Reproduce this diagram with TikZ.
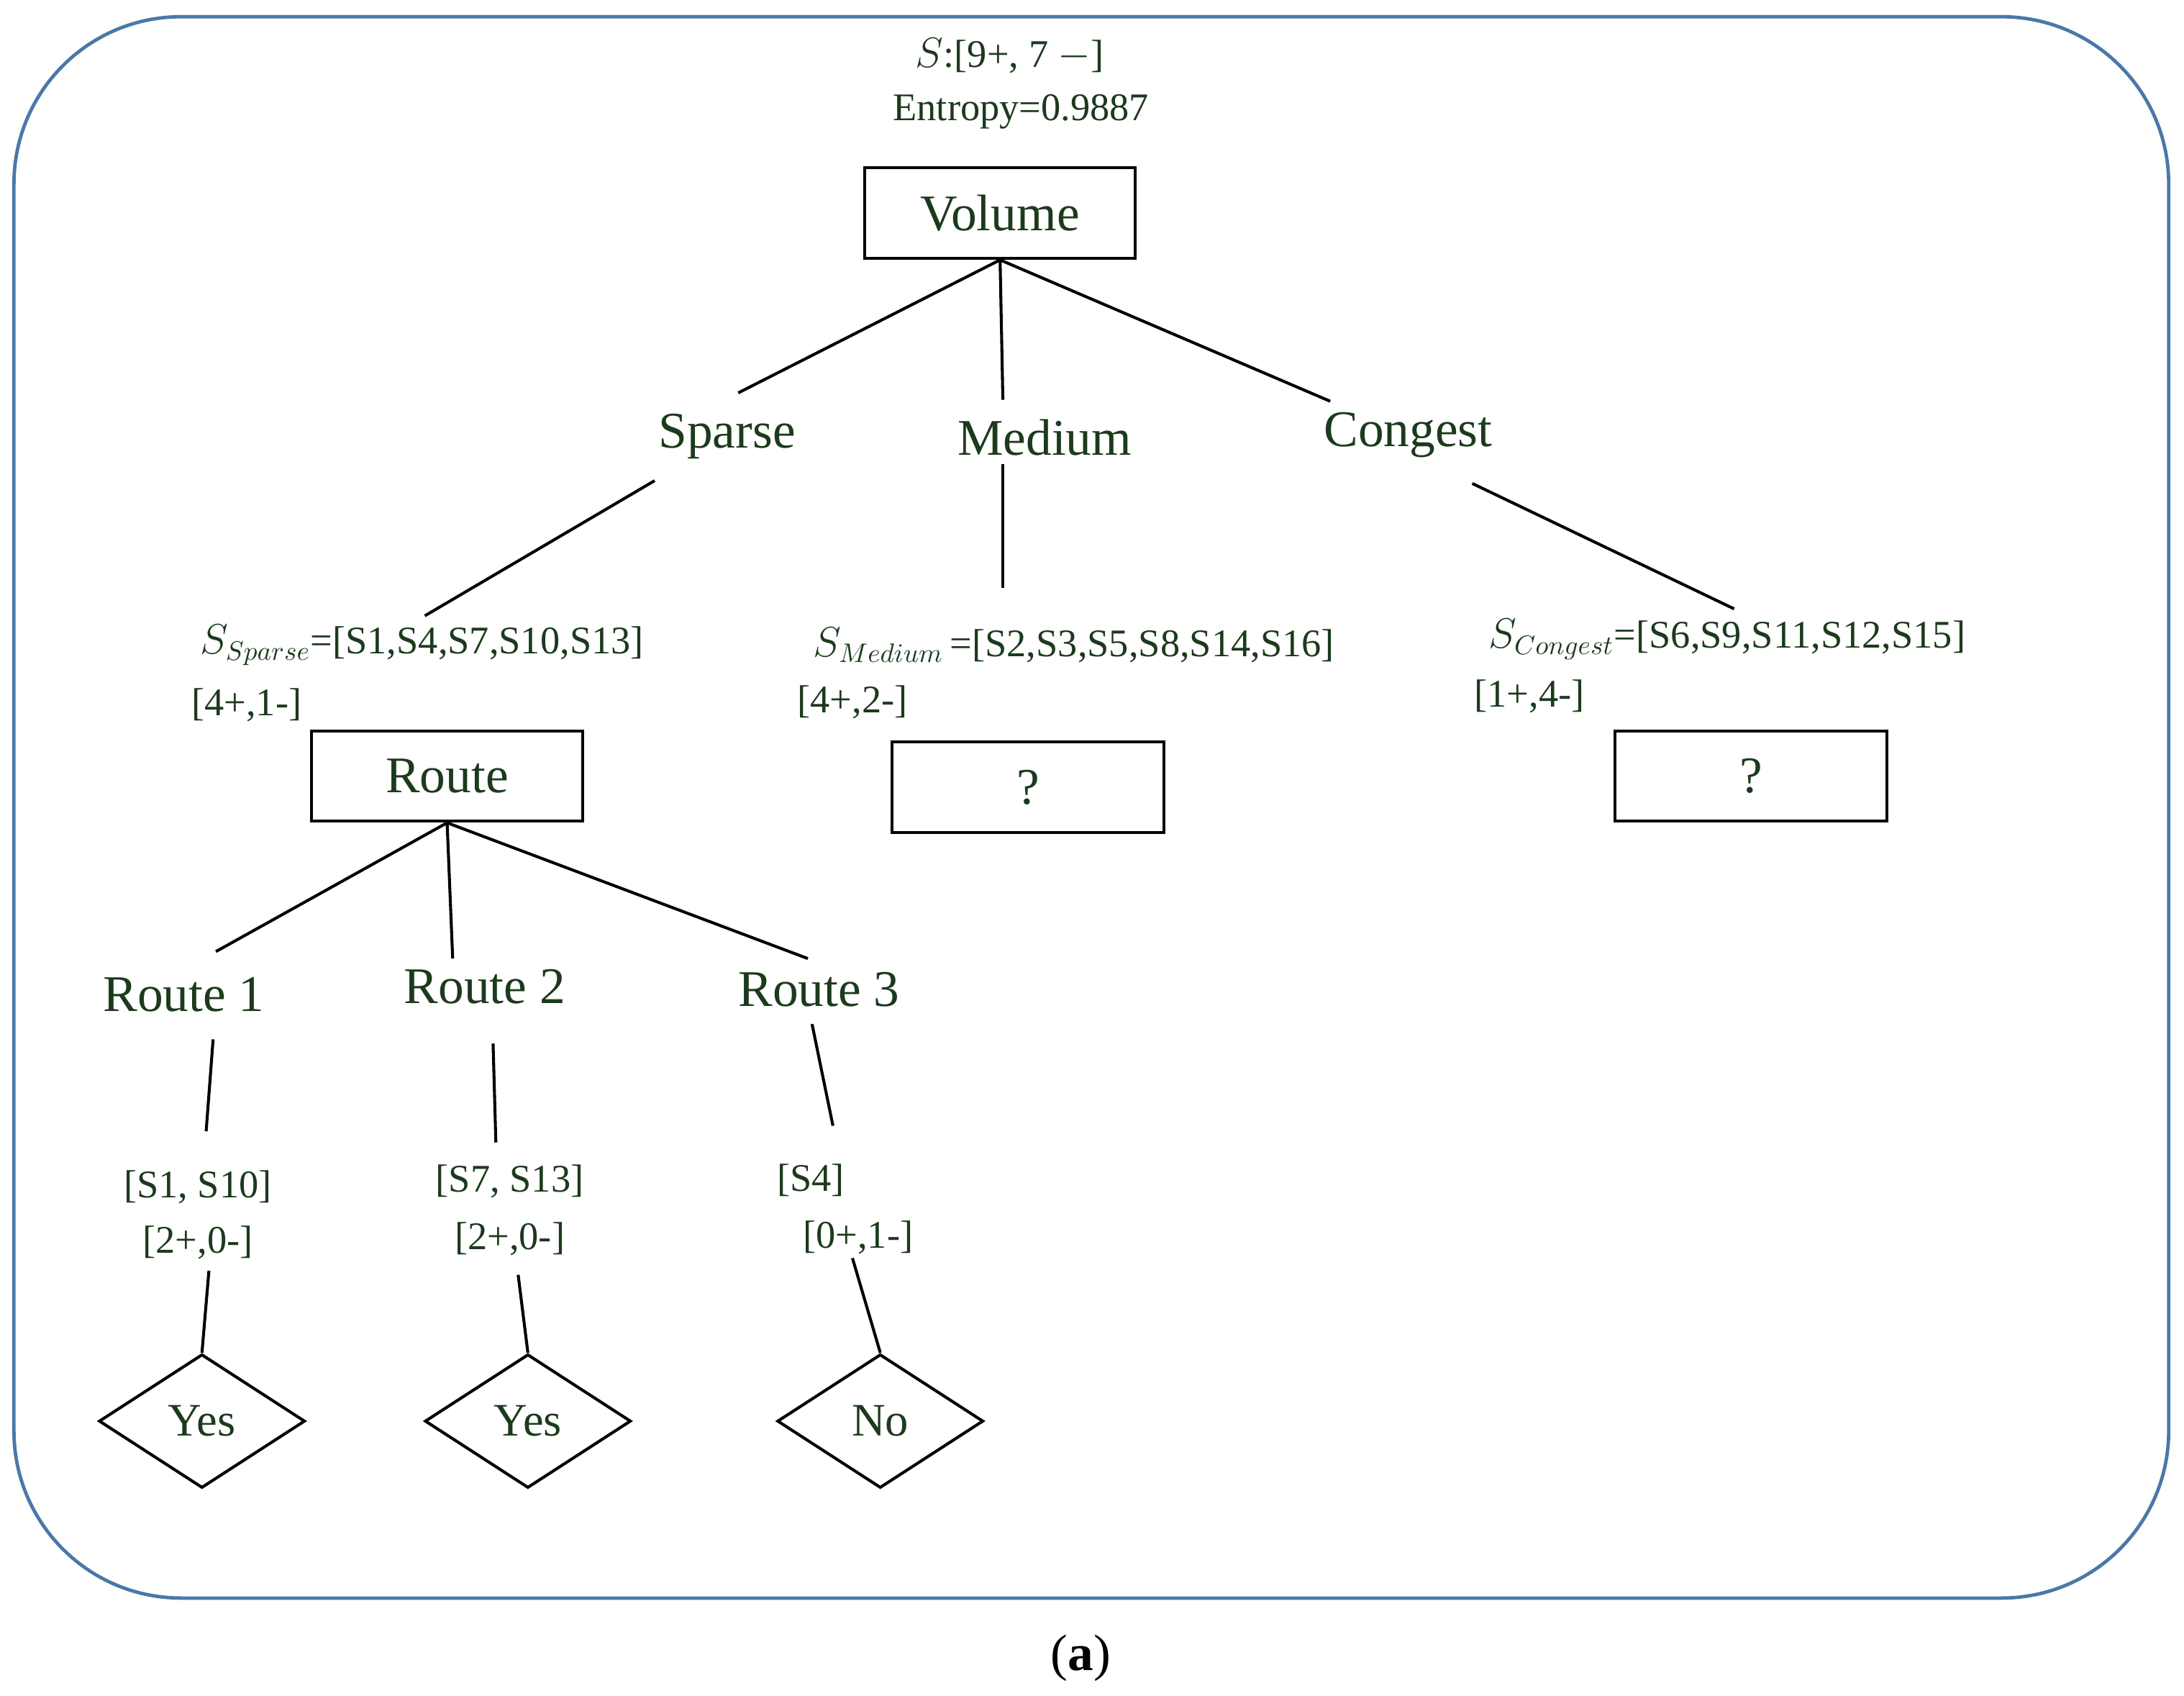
\documentclass[tikz,border=0pt]{standalone}
\usepackage{fontspec}
\setmainfont{Liberation Serif}
\usetikzlibrary{shapes.geometric}
\definecolor{tx}{HTML}{1C3A1C}
\definecolor{fr}{HTML}{4A78A8}
\begin{document}
\begin{tikzpicture}[x=0.02cm,y=-0.02cm,
  big/.style={text=tx,font=\fontsize{21}{24}\selectfont},
  lab/.style={text=tx,font=\fontsize{16}{19}\selectfont},
  box/.style={draw=black,line width=1.2pt,minimum width=3.9cm,minimum height=1.3cm,inner sep=0pt},
  dia/.style={diamond,draw=black,line width=1.2pt,aspect=1.55,minimum width=2.96cm,minimum height=1.92cm,inner sep=0pt,text=tx,font=\fontsize{19}{22}\selectfont},
  ln/.style={line width=1.2pt}]
\useasboundingbox (0,0) rectangle (1568,1217);
\draw[fr,line width=1.4pt,rounded corners=2.4cm] (10,12) rectangle (1557,1147);
\node[text=black,font=\fontsize{21}{24}\selectfont] (cap) at (776,1190) {(\textbf{a})};
\node[lab] (s) at (725,40) {$S$:[9+, 7 $-$]};
\node[lab] (ent) at (733,80) {Entropy=0.9887};
\node[box,big,minimum width=3.88cm] (vol) at (718,153) {Volume};
\node[big] (sp) at (522,313) {Sparse};
\node[big] (me) at (750,314) {Medium};
\node[big] (co) at (1011,312) {Congest};
\coordinate (a1) at (530,282); \coordinate (a2) at (720,287); \coordinate (a3) at (955,288);
\draw[ln] (vol.south) -- (a1); \draw[ln] (vol.south) -- (a2); \draw[ln] (vol.south) -- (a3);
\coordinate (b1) at (470,345); \coordinate (b2) at (305,442);
\coordinate (c1) at (720,333); \coordinate (c2) at (720,422);
\coordinate (d1) at (1057,347); \coordinate (d2) at (1245,437);
\draw[ln] (b1) -- (b2); \draw[ln] (c1) -- (c2); \draw[ln] (d1) -- (d2);
\node[lab] (ssp) at (303,463) {$S_{Sparse}$=[S1,S4,S7,S10,S13]};
\node[lab] (ssp2) at (177,506) {[4+,1-]};
\node[lab] (sme) at (771,463) {$S_{Medium}$\,=[S2,S3,S5,S8,S14,S16]};
\node[lab] (sme2) at (612,504) {[4+,2-]};
\node[lab] (sco) at (1240,459) {$S_{Congest}$=[S6,S9,S11,S12,S15]};
\node[lab] (sco2) at (1098,500) {[1+,4-]};
\node[box,big] (route) at (321,557) {Route};
\node[box,big] (q1) at (738,565) {?};
\node[box,big] (q2) at (1257,557) {?};
\coordinate (e1) at (155,683); \coordinate (e2) at (325,688); \coordinate (e3) at (580,688);
\draw[ln] (route.south) -- (e1); \draw[ln] (route.south) -- (e2); \draw[ln] (route.south) -- (e3);
\node[big] (r1) at (132,714) {Route 1};
\node[big] (r2) at (348,708) {Route 2};
\node[big] (r3) at (588,710) {Route 3};
\coordinate (f1) at (153,746); \coordinate (f2) at (148,812);
\coordinate (g1) at (354,749); \coordinate (g2) at (356,820);
\coordinate (h1) at (583,735); \coordinate (h2) at (598,808);
\draw[ln] (f1) -- (f2); \draw[ln] (g1) -- (g2); \draw[ln] (h1) -- (h2);
\node[lab] (l1) at (142,852) {[S1, S10]};
\node[lab] (l1b) at (142,892) {[2+,0-]};
\node[lab] (l2) at (366,848) {[S7, S13]};
\node[lab] (l2b) at (366,889) {[2+,0-]};
\node[lab] (l3) at (582,847) {[S4]};
\node[lab] (l3b) at (616,888) {[0+,1-]};
\node[dia] (y1) at (145,1020) {Yes};
\node[dia] (y2) at (379,1020) {Yes};
\node[dia] (n1) at (632,1020) {No};
\coordinate (i1) at (150,912); \coordinate (i2) at (372,915); \coordinate (i3) at (612,903);
\draw[ln] (i1) -- (y1.north); \draw[ln] (i2) -- (y2.north); \draw[ln] (i3) -- (n1.north);
\end{tikzpicture}
\end{document}
